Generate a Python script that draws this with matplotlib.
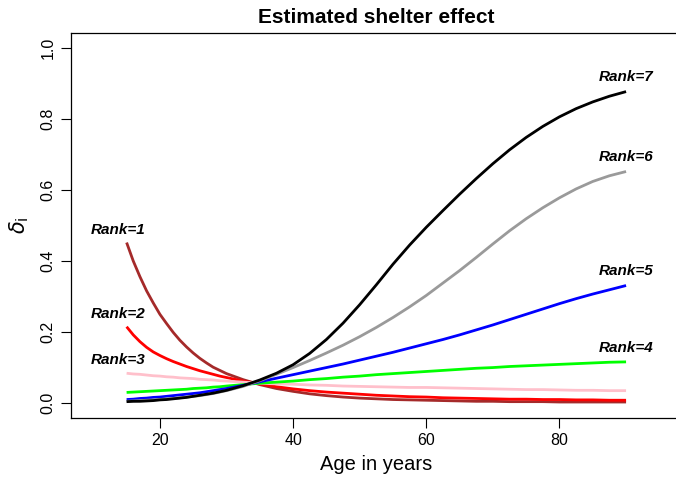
import matplotlib
matplotlib.use("Agg")
import matplotlib.pyplot as plt

plt.rcParams['font.family'] = ['Liberation Sans', 'DejaVu Sans']

# --- DATA ---
# yearly steps where the curves bend hard, 2.5 years after that
ages = [15, 16, 17, 18, 19, 20, 21, 22, 23, 24, 25, 26, 27, 28, 29, 30,
        32.5, 35, 37.5, 40, 42.5, 45, 47.5, 50, 52.5, 55, 57.5, 60, 62.5,
        65, 67.5, 70, 72.5, 75, 77.5, 80, 82.5, 85, 87.5, 90]

rank1 = [0.452, 0.400, 0.356, 0.316, 0.282, 0.250, 0.224, 0.199, 0.177, 0.158,
         0.141, 0.126, 0.113, 0.101, 0.092, 0.083,
         0.066, 0.052, 0.041, 0.033, 0.026, 0.021, 0.017, 0.014, 0.012, 0.010,
         0.009, 0.008, 0.007, 0.006, 0.005, 0.005, 0.004, 0.004, 0.004, 0.003,
         0.003, 0.003, 0.003, 0.003]
rank2 = [0.215, 0.192, 0.173, 0.157, 0.144, 0.134, 0.125, 0.117, 0.110, 0.103,
         0.097, 0.091, 0.086, 0.081, 0.076, 0.072,
         0.062, 0.054, 0.046, 0.040, 0.035, 0.031, 0.028, 0.025, 0.022, 0.020,
         0.018, 0.017, 0.015, 0.014, 0.013, 0.012, 0.011, 0.011, 0.010, 0.010,
         0.009, 0.009, 0.008, 0.008]
rank3 = [0.084, 0.082, 0.081, 0.079, 0.077, 0.076, 0.074, 0.073, 0.071, 0.070,
         0.069, 0.067, 0.066, 0.065, 0.063, 0.062,
         0.059, 0.056, 0.054, 0.053, 0.051, 0.050, 0.048, 0.047, 0.046, 0.045,
         0.044, 0.044, 0.043, 0.042, 0.041, 0.040, 0.039, 0.038, 0.038, 0.037,
         0.036, 0.036, 0.035, 0.035]
rank4 = [0.030, 0.031, 0.032, 0.033, 0.034, 0.035, 0.036, 0.037, 0.038, 0.039,
         0.041, 0.042, 0.043, 0.045, 0.046, 0.048,
         0.052, 0.056, 0.059, 0.062, 0.066, 0.069, 0.073, 0.076, 0.080, 0.083,
         0.086, 0.089, 0.092, 0.095, 0.098, 0.100, 0.103, 0.105, 0.107, 0.109,
         0.111, 0.113, 0.115, 0.116]
rank5 = [0.010, 0.011, 0.013, 0.014, 0.016, 0.017, 0.019, 0.021, 0.023, 0.025,
         0.027, 0.029, 0.032, 0.035, 0.038, 0.041,
         0.050, 0.060, 0.070, 0.080, 0.090, 0.100, 0.110, 0.121, 0.132, 0.143,
         0.155, 0.167, 0.179, 0.192, 0.206, 0.220, 0.235, 0.250, 0.265, 0.280,
         0.294, 0.307, 0.319, 0.331]
rank6 = [0.005, 0.006, 0.007, 0.008, 0.009, 0.010, 0.012, 0.013, 0.015, 0.017,
         0.019, 0.021, 0.024, 0.027, 0.031, 0.035,
         0.047, 0.063, 0.081, 0.100, 0.120, 0.141, 0.163, 0.187, 0.213, 0.241,
         0.271, 0.303, 0.338, 0.373, 0.410, 0.448, 0.485, 0.519, 0.550, 0.578,
         0.603, 0.624, 0.640, 0.652]
rank7 = [0.004, 0.005, 0.005, 0.006, 0.007, 0.009, 0.010, 0.012, 0.014, 0.016,
         0.019, 0.022, 0.025, 0.028, 0.032, 0.036,
         0.049, 0.065, 0.084, 0.108, 0.140, 0.179, 0.225, 0.277, 0.333, 0.391,
         0.445, 0.495, 0.542, 0.588, 0.632, 0.674, 0.713, 0.748, 0.779, 0.806,
         0.829, 0.848, 0.864, 0.877]

series = [rank1, rank2, rank3, rank4, rank5, rank6, rank7]
colors = ['#A52A2A', '#FF0000', '#FFC0CB', '#00FF00', '#0000FF', '#9A9A9A', '#000000']
rank_labels = ['Rank=%d' % k for k in range(1, 8)]

# --- PLOT ---
fig = plt.figure(figsize=(6.76, 4.8), dpi=100)
# right border of the R plot box falls just outside the image
ax = fig.add_axes([71 / 676, 62 / 480, 611 / 676, 385 / 480])

for vals, col in zip(series, colors):
    ax.plot(ages, vals, color=col, lw=2.0, solid_capstyle='butt')

# labels: ranks 1-3 at the young end, 4-7 at the old end
for i, (vals, lab) in enumerate(zip(series, rank_labels)):
    if i < 3:
        ax.text(ages[0] - 1.3, vals[0] + 0.036, lab, ha='center', va='center',
                fontsize=11, fontweight='bold', fontstyle='italic')
    else:
        ax.text(ages[-1], vals[-1] + 0.04, lab, ha='center', va='center',
                fontsize=11, fontweight='bold', fontstyle='italic')

ax.set_xlim(6.65, 98.4)
ax.set_ylim(-0.042, 1.042)
ax.set_xticks([20, 40, 60, 80])
ax.set_yticks([0.0, 0.2, 0.4, 0.6, 0.8, 1.0])
ax.set_yticklabels(['0.0', '0.2', '0.4', '0.6', '0.8', '1.0'], rotation=90, va='center')
ax.tick_params(direction='out', length=7, width=0.8, labelsize=11.5, pad=4)
for sp in ax.spines.values():
    sp.set_linewidth(0.9)

ax.set_title('Estimated shelter effect', fontsize=15, fontweight='bold', pad=7)
ax.set_xlabel('Age in years', fontsize=14.5, labelpad=5)
ax.set_ylabel(r'$\delta_\mathrm{i}$', fontsize=15, labelpad=7)

fig.savefig('out.png', dpi=100)
